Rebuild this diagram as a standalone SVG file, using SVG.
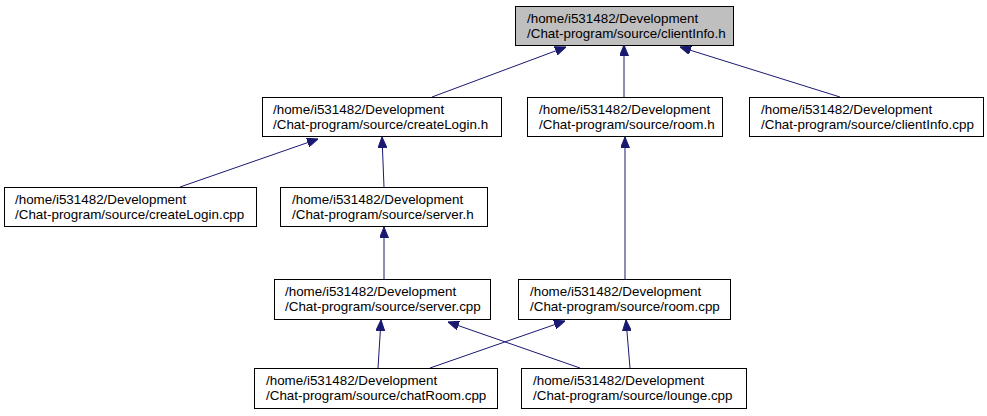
<svg xmlns="http://www.w3.org/2000/svg" width="987" height="416" viewBox="0 0 987 416">
<style>
.n rect{fill:#fff;stroke:#000;stroke-width:1}
.n.hl rect{fill:#bfbfbf}
.n text{font-family:"Liberation Sans",Arial,sans-serif;font-size:13.4px;fill:#000}
.e line{stroke:#191970;stroke-width:1;marker-end:url(#ah)}
</style>
<defs>
<marker id="ah" viewBox="0 0 11 9" refX="11" refY="4.5" markerWidth="11" markerHeight="9" markerUnits="userSpaceOnUse" orient="auto">
<path d="M0,0 L11,4.5 L0,9 Z" fill="#191970" stroke="#191970"/>
</marker>
</defs>
<rect width="987" height="416" fill="#fff"/>
<g id="edges" class="e">
<line x1="432" y1="97" x2="566" y2="47"/>
<line x1="624" y1="97" x2="624" y2="45"/>
<line x1="840" y1="97" x2="680" y2="47"/>
<line x1="180" y1="187" x2="318" y2="139"/>
<line x1="384" y1="187" x2="382" y2="137"/>
<line x1="384" y1="280" x2="384" y2="227"/>
<line x1="625" y1="280" x2="625" y2="137"/>
<line x1="378" y1="368" x2="381" y2="320"/>
<line x1="580" y1="368" x2="448" y2="322"/>
<line x1="430" y1="368" x2="565" y2="321"/>
<line x1="630" y1="368" x2="626" y2="320"/>
</g>
<g id="clientInfo_h" class="n hl"><rect x="515.5" y="6.5" width="218" height="39"/><text x="527" y="23">/home/i531482/Development</text><text x="527" y="38">/Chat-program/source/clientInfo.h</text></g>
<g id="createLogin_h" class="n"><rect x="262.5" y="97.5" width="239" height="39"/><text x="273" y="114">/home/i531482/Development</text><text x="273" y="129">/Chat-program/source/createLogin.h</text></g>
<g id="room_h" class="n"><rect x="527.5" y="97.5" width="195" height="39"/><text x="539" y="114">/home/i531482/Development</text><text x="539" y="129">/Chat-program/source/room.h</text></g>
<g id="clientInfo_cpp" class="n"><rect x="749.5" y="97.5" width="234" height="39"/><text x="761" y="114">/home/i531482/Development</text><text x="761" y="129">/Chat-program/source/clientInfo.cpp</text></g>
<g id="createLogin_cpp" class="n"><rect x="4.5" y="187.5" width="252" height="39"/><text x="15" y="204">/home/i531482/Development</text><text x="15" y="219">/Chat-program/source/createLogin.cpp</text></g>
<g id="server_h" class="n"><rect x="280.5" y="187.5" width="207" height="39"/><text x="292" y="204">/home/i531482/Development</text><text x="292" y="219">/Chat-program/source/server.h</text></g>
<g id="server_cpp" class="n"><rect x="274.5" y="279.5" width="216" height="40"/><text x="285" y="296">/home/i531482/Development</text><text x="285" y="311">/Chat-program/source/server.cpp</text></g>
<g id="room_cpp" class="n"><rect x="518.5" y="279.5" width="212" height="40"/><text x="530" y="296">/home/i531482/Development</text><text x="530" y="311">/Chat-program/source/room.cpp</text></g>
<g id="chatRoom_cpp" class="n"><rect x="254.5" y="368.5" width="243" height="40"/><text x="266" y="385">/home/i531482/Development</text><text x="266" y="400">/Chat-program/source/chatRoom.cpp</text></g>
<g id="lounge_cpp" class="n"><rect x="521.5" y="368.5" width="225" height="40"/><text x="533" y="385">/home/i531482/Development</text><text x="533" y="400">/Chat-program/source/lounge.cpp</text></g>
</svg>
